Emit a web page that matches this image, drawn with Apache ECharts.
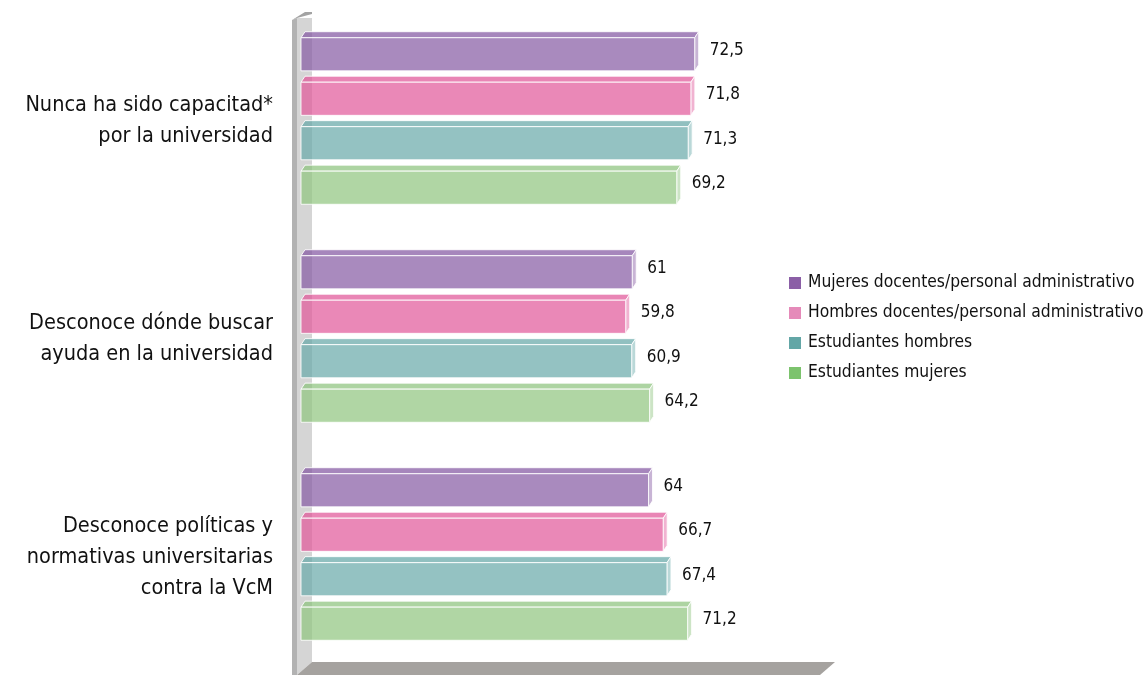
<!DOCTYPE html>
<html>
<head>
<meta charset="utf-8">
<script src="https://cdn.jsdelivr.net/npm/echarts@6/dist/echarts.min.js"></script>
<style>
html,body{margin:0;padding:0;background:#fff;}
#chart{width:1147px;height:675px;}
</style>
</head>
<body>
<div id="chart"></div>
<script>
const categories = [
  'Nunca ha sido capacitad*\npor la universidad',
  'Desconoce dónde buscar\nayuda en la universidad',
  'Desconoce políticas y\nnormativas universitarias\ncontra la VcM'
];
const seriesNames = [
  'Mujeres docentes/personal administrativo',
  'Hombres docentes/personal administrativo',
  'Estudiantes hombres',
  'Estudiantes mujeres'
];
const mujeresDocentes = [72.5, 61, 64];
const hombresDocentes = [71.8, 59.8, 66.7];
const estudiantesHombres = [71.3, 60.9, 67.4];
const estudiantesMujeres = [69.2, 64.2, 71.2];
const seriesValues = [mujeresDocentes, hombresDocentes, estudiantesHombres, estudiantesMujeres];

const legendColors = ['#8b5fa6', '#e58ab9', '#63a6a6', '#7cc36d'];
const barBase = [[132,88,162],[225,86,152],[102,168,168],[142,196,126]];
const FONT = '"DejaVu Sans Condensed", "Liberation Sans Narrow", sans-serif';

function fmt(v){ return String(v).replace('.', ','); }

function makeRender(k){
  return function(params, api){
    const v = api.value(0), c = api.value(1);
    const p0 = api.coord([0, c]);
    const p1 = api.coord([v, c]);
    const band = api.size([0, 1])[1];
    const pitch = band * 0.204;
    const h = band * 0.152;
    const yc = p0[1] + (k - 1.5) * pitch;
    const yT = yc - h / 2, yB = yc + h / 2;
    const x0 = p0[0], x1 = p1[0];
    const dx = 4, dy = 6;
    const b = barBase[k];
    const front = 'rgba(' + b.join(',') + ',0.7)';
    const top = 'rgba(' + b.join(',') + ',0.72)';
    const side = 'rgba(' + b.join(',') + ',0.45)';
    const edge = 'rgba(255,255,255,0.85)';
    return {
      type: 'group',
      children: [
        {type:'polygon', shape:{points:[[x0,yT],[x0+dx,yT-dy],[x1+dx,yT-dy],[x1,yT]]},
         style:{fill:top, stroke:edge, lineWidth:1}},
        {type:'polygon', shape:{points:[[x1,yT],[x1+dx,yT-dy],[x1+dx,yB-dy],[x1,yB]]},
         style:{fill:side, stroke:edge, lineWidth:1}},
        {type:'rect', shape:{x:x0, y:yT, width:x1-x0, height:h},
         style:{fill:front, stroke:edge, lineWidth:1}},
        {type:'text', x:x1+dx+11, y:yc-4,
         style:{text:fmt(v), fill:'#111', font:'17px ' + FONT, textVerticalAlign:'middle', textAlign:'left'}}
      ]
    };
  };
}

function renderDecor(params, api){
  const cs = params.coordSys;
  const gx = cs.x, gy = cs.y, gw = cs.width, gh = cs.height;
  const bottom = 675;
  const floorTop = gy + gh - 4;
  return {
    type:'group',
    children:[
      {type:'polygon', shape:{points:[[gx-9,gy+8],[gx-4,gy+6],[gx-4,bottom],[gx-9,bottom]]}, style:{fill:'#b2b2b2'}},
      {type:'polygon', shape:{points:[[gx-4,gy+6],[gx+11,gy+6],[gx+11,floorTop],[gx-4,bottom]]}, style:{fill:'#d5d5d5'}},
      {type:'polygon', shape:{points:[[gx-9,gy+8],[gx+4,gy],[gx+11,gy],[gx+11,gy+2],[gx-4,gy+6]]}, style:{fill:'#a3a3a3'}},
      {type:'polygon', shape:{points:[[gx-4,bottom],[gx+11,floorTop],[gx+gw-9,floorTop],[gx+gw-24,bottom]]}, style:{fill:'#a5a29f'}}
    ]
  };
}

const chart = echarts.init(document.getElementById('chart'));
const series = [{
  type:'custom', name:'decor', silent:true, z:1,
  data:[[0,0]], encode:{x:0,y:1},
  renderItem: renderDecor
}];
seriesValues.forEach(function(vals, k){
  series.push({
    type:'custom', name:seriesNames[k], z:2,
    itemStyle:{color:legendColors[k]},
    encode:{x:0, y:1},
    data: vals.map(function(v, i){ return [v, i]; }),
    renderItem: makeRender(k)
  });
});

chart.setOption({
  animation:false,
  backgroundColor:'#ffffff',
  grid:{left:301, right:303, top:12, height:654, containLabel:false},
  xAxis:{type:'value', min:0, max:100, show:false},
  yAxis:{
    type:'category', data:categories, inverse:true,
    axisLine:{show:false}, axisTick:{show:false}, splitLine:{show:false},
    axisLabel:{margin:28, color:'#111', fontSize:21.5, lineHeight:31, fontFamily:FONT, align:'right'}
  },
  legend:{
    data:seriesNames, orient:'vertical', left:784, top:269,
    itemWidth:12, itemHeight:12, itemGap:12, icon:'rect',
    textStyle:{fontSize:17.3, lineHeight:18, color:'#111', fontFamily:FONT, padding:[0,0,0,2]}
  },
  series: series
});
</script>
</body>
</html>
